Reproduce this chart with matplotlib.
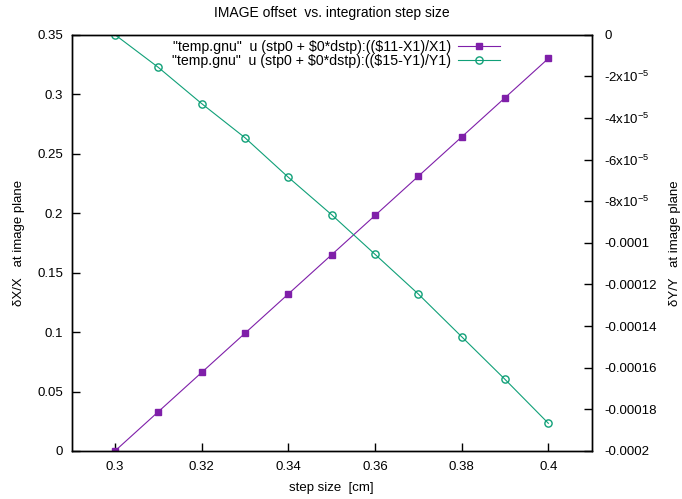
import numpy as np
import matplotlib.pyplot as plt
from matplotlib.ticker import FixedLocator, FixedFormatter

plt.rcParams['font.family'] = ['Liberation Sans', 'DejaVu Sans']
plt.rcParams['font.size'] = 9.5
plt.rcParams['mathtext.fontset'] = 'custom'
plt.rcParams['mathtext.rm'] = 'Liberation Sans'

# data
step = [0.30, 0.31, 0.32, 0.33, 0.34, 0.35, 0.36, 0.37, 0.38, 0.39, 0.40]
dx_over_x = [0.0, 0.033, 0.066, 0.099, 0.132, 0.165, 0.198, 0.231, 0.264, 0.297, 0.330]
dy_over_y = [0.0, -1.57e-5, -3.31e-5, -4.95e-5, -6.85e-5, -8.65e-5,
             -1.055e-4, -1.246e-4, -1.451e-4, -1.656e-4, -1.867e-4]

x_ticks = [0.3, 0.32, 0.34, 0.36, 0.38, 0.4]
x_labels = ['0.3', '0.32', '0.34', '0.36', '0.38', '0.4']
y_ticks = [0, 0.05, 0.1, 0.15, 0.2, 0.25, 0.3, 0.35]
y_labels = ['0', '0.05', '0.1', '0.15', '0.2', '0.25', '0.3', '0.35']
y2_ticks = [0, -2e-5, -4e-5, -6e-5, -8e-5, -1e-4, -1.2e-4, -1.4e-4, -1.6e-4, -1.8e-4, -2e-4]
y2_labels = ['0', r'-2x10$^{-5}$', r'-4x10$^{-5}$', r'-6x10$^{-5}$', r'-8x10$^{-5}$',
             '-0.0001', '-0.00012', '-0.00014', '-0.00016', '-0.00018', '-0.0002']

purple = '#7f1fa9'
green = '#10a078'

fig = plt.figure(figsize=(6.82, 4.99), dpi=100)
ax = fig.add_axes([0.105, 0.0962, 0.7626, 0.8343])
ax2 = ax.twinx()

l1, = ax.plot(step, dx_over_x, color=purple, lw=0.8, marker='s', ms=5,
              label=r'"temp.gnu"  u (stp0 + \$0*dstp):((\$11-X1)/X1)')
l2, = ax2.plot(step, dy_over_y, color=green, lw=0.8, marker='o', ms=5.2,
               mfc='none', mew=1.0,
               label=r'"temp.gnu"  u (stp0 + \$0*dstp):((\$15-Y1)/Y1)')

ax.set_xlim(0.29, 0.41)
ax.set_ylim(0, 0.35)
ax2.set_ylim(-0.0002, 0)

ax.xaxis.set_major_locator(FixedLocator(x_ticks))
ax.xaxis.set_major_formatter(FixedFormatter(x_labels))
ax.yaxis.set_major_locator(FixedLocator(y_ticks))
ax.yaxis.set_major_formatter(FixedFormatter(y_labels))
ax2.yaxis.set_major_locator(FixedLocator(y2_ticks))
ax2.yaxis.set_major_formatter(FixedFormatter(y2_labels))

ax.tick_params(axis='x', direction='in', length=6, width=1, pad=7, top=False)
ax.tick_params(axis='y', direction='in', length=6, width=1, pad=6, right=False)
ax2.tick_params(axis='y', direction='in', length=6, width=1, pad=9)
for a in (ax, ax2):
    for s in a.spines.values():
        s.set_linewidth(1)

ax.set_title('IMAGE offset  vs. integration step size', fontsize=10, pad=13)
ax.set_xlabel('step size  [cm]', labelpad=7)
ax.set_ylabel('δX/X   at image plane', labelpad=9)
ax2.set_ylabel('δY/Y   at image plane', labelpad=8.5)

leg = ax.legend([l1, l2], [l1.get_label(), l2.get_label()], loc='upper right',
                bbox_to_anchor=(0.835, 1.0), frameon=False, markerfirst=False,
                handlelength=3.0, handletextpad=0.5, labelspacing=-0.05,
                borderaxespad=0.0, borderpad=0.4, fontsize=10.2)

fig.savefig('out.png', dpi=100)
